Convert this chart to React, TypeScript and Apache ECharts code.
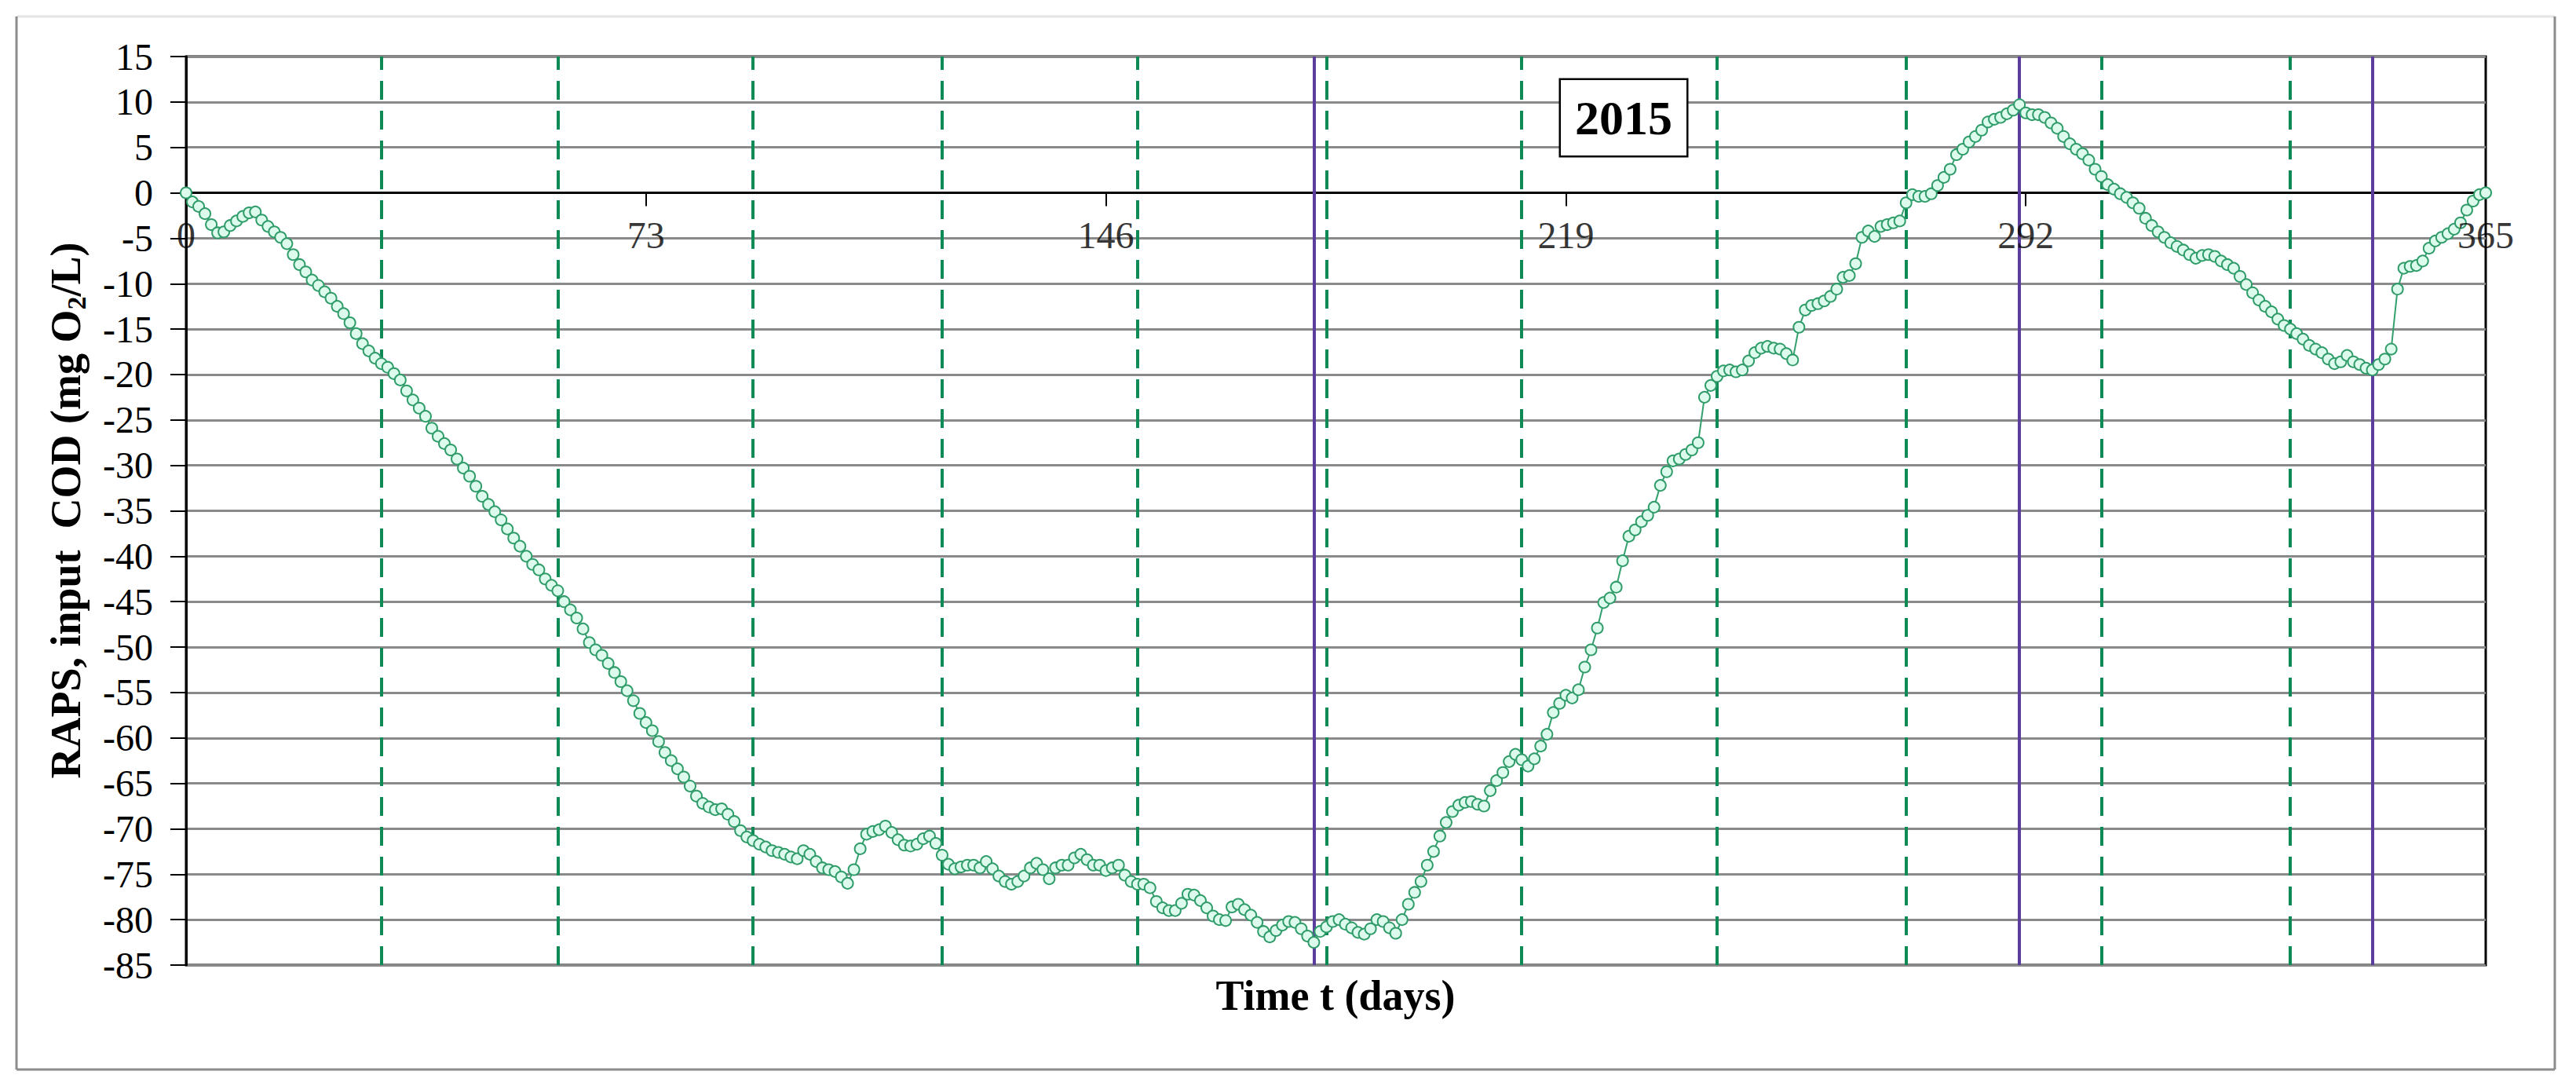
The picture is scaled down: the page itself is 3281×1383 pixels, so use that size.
import React, { useEffect, useRef } from "react";
import * as echarts from "echarts";

// Tick values on the time axis (days)
const xTicks = [0, 73, 146, 219, 292, 365];
// Month boundaries (green dashed lines)
const monthEnds = [31, 59, 90, 120, 151, 181, 212, 243, 273, 304, 334];
// Turning points (purple solid lines)
const turningPoints = [179, 291, 347];
const yearLabel = "2015";

// RAPS values, one per day (day 0 .. 365), grouped by month
const m01 = [0, -1, -1.5, -2.3, -3.5, -4.4, -4.3, -3.6, -3.1, -2.6, -2.2, -2.1, -3, -3.7, -4.3, -4.9, -5.6, -6.8, -7.9, -8.7, -9.6, -10.2, -10.9, -11.6, -12.5, -13.3, -14.3, -15.5, -16.6, -17.4, -18.2, -18.8];
const m02 = [-19.2, -19.9, -20.6, -21.8, -22.8, -23.7, -24.6, -25.9, -26.8, -27.6, -28.3, -29.3, -30.3, -31.2, -32.3, -33.4, -34.3, -35.1, -36, -37, -38, -38.9, -40, -40.9, -41.5, -42.5, -43.2, -43.8];
const m03 = [-45, -45.9, -46.8, -48, -49.5, -50.3, -50.9, -51.8, -52.8, -53.8, -54.8, -55.9, -57.3, -58.3, -59.2, -60.4, -61.6, -62.5, -63.4, -64.3, -65.3, -66.4, -67.2, -67.6, -67.9, -67.8, -68.4, -69.2, -70.2, -70.9, -71.3];
const m04 = [-71.7, -72, -72.4, -72.6, -72.8, -73.1, -73.3, -72.4, -72.8, -73.6, -74.3, -74.5, -74.7, -75.3, -76, -74.5, -72.2, -70.6, -70.3, -70.1, -69.7, -70.4, -71.2, -71.8, -71.9, -71.7, -71.1, -70.8, -71.6, -72.9];
const m05 = [-73.9, -74.4, -74.2, -74, -74, -74.3, -73.6, -74.4, -75.2, -75.8, -76.1, -75.8, -75.2, -74.3, -73.8, -74.5, -75.5, -74.3, -74, -74, -73.2, -72.8, -73.4, -74, -74, -74.6, -74.3, -74, -75.1, -75.8, -76.1];
const m06 = [-76.1, -76.5, -78, -78.7, -79, -79, -78.2, -77.2, -77.3, -77.9, -78.7, -79.6, -80, -80.1, -78.6, -78.3, -78.9, -79.5, -80.3, -81.3, -81.9, -81.2, -80.6, -80.2, -80.3, -81, -81.8, -82.5, -81.3, -80.8];
const m07 = [-80.2, -80, -80.5, -80.9, -81.4, -81.6, -81, -80, -80.2, -80.9, -81.5, -80, -78.3, -77, -75.8, -74, -72.5, -70.8, -69.3, -68.1, -67.4, -67.1, -67, -67.3, -67.5, -65.8, -64.7, -63.8, -62.6, -61.8, -62.4];
const m08 = [-63.1, -62.3, -60.9, -59.6, -57.2, -56.2, -55.3, -55.6, -54.7, -52.2, -50.3, -47.9, -45.1, -44.6, -43.4, -40.5, -37.8, -37.1, -36.2, -35.5, -34.6, -32.2, -30.7, -29.5, -29.3, -28.8, -28.3, -27.5, -22.5, -21.2, -20.2];
const m09 = [-19.6, -19.5, -19.7, -19.5, -18.5, -17.6, -17.1, -16.9, -17.1, -17.2, -17.7, -18.4, -14.8, -12.9, -12.4, -12.2, -11.9, -11.4, -10.6, -9.3, -9.1, -7.8, -4.9, -4.2, -4.8, -3.7, -3.5, -3.3, -3.1, -1.1];
const m10 = [-0.2, -0.4, -0.4, -0.1, 0.8, 1.7, 2.6, 4.2, 4.8, 5.6, 6.2, 6.9, 7.8, 8.1, 8.3, 8.7, 9.1, 9.7, 8.8, 8.6, 8.6, 8.3, 7.7, 7.1, 6.2, 5.4, 4.8, 4.3, 3.6, 2.6, 1.8];
const m11 = [0.9, 0.4, -0.1, -0.5, -1.1, -1.7, -2.8, -3.6, -4.3, -4.9, -5.5, -5.9, -6.3, -6.8, -7.2, -6.9, -6.8, -7, -7.5, -7.9, -8.3, -9.2, -10.1, -11, -11.8, -12.5, -13.1, -13.9, -14.6, -15];
const m12 = [-15.5, -16.1, -16.8, -17.2, -17.6, -18.3, -18.8, -18.6, -17.9, -18.6, -18.9, -19.3, -19.5, -18.9, -18.3, -17.2, -10.6, -8.3, -8.1, -8, -7.5, -6.1, -5.3, -4.9, -4.5, -4, -3.3, -1.9, -0.9, -0.2, 0];

const SERIF = "'Liberation Serif', 'Times New Roman', serif";

export default function App() {
  const ref = useRef<HTMLDivElement>(null);

  useEffect(() => {
    if (!ref.current) return;
    const chart = echarts.init(ref.current, null, { renderer: "svg" });
    const values = [...m01, ...m02, ...m03, ...m04, ...m05, ...m06, ...m07, ...m08, ...m09, ...m10, ...m11, ...m12];
    const data = values.map((v, i) => [i, v]);

    const markData: any[] = [
      ...monthEnds.map((d) => ({
        xAxis: d,
        lineStyle: { type: [24, 14], color: "#0d8a56", width: 4 },
      })),
      ...turningPoints.map((d) => ({
        xAxis: d,
        lineStyle: { type: "solid", color: "#5a3d9c", width: 4 },
      })),
    ];

    const option: any = {
      animation: false,
      backgroundColor: "#ffffff",
      grid: {
        left: 237,
        right: 115,
        top: 72,
        bottom: 154,
        containLabel: false,
        outerBoundsMode: "none",
        show: true,
        borderColor: "#000",
        borderWidth: 3,
        backgroundColor: "transparent",
      },
      xAxis: {
        type: "value",
        min: 0,
        max: 365,
        interval: 73,
        axisLine: { show: true, onZero: true, lineStyle: { color: "#000", width: 3 } },
        axisTick: { show: true, inside: false, length: 17, lineStyle: { color: "#000", width: 2 } },
        axisLabel: { show: false },
        splitLine: { show: false },
      },
      yAxis: {
        type: "value",
        min: -85,
        max: 15,
        interval: 5,
        axisLine: { show: true, onZero: false, lineStyle: { color: "#000", width: 3 } },
        axisTick: { show: true, length: 20, lineStyle: { color: "#000", width: 2 } },
        axisLabel: { fontFamily: SERIF, fontSize: 48, color: "#000", margin: 42 },
        splitLine: { show: true, lineStyle: { color: "#8a8a8a", width: 3 } },
      },
      series: [
        {
          type: "line",
          data,
          symbol: "circle",
          symbolSize: 14,
          showAllSymbol: true,
          lineStyle: { color: "#33a06e", width: 2 },
          itemStyle: { color: "#dcfbec", borderColor: "#2f9c6a", borderWidth: 2 },
          z: 3,
          markLine: {
            silent: true,
            symbol: ["none", "none"],
            label: { show: false },
            emphasis: { disabled: true },
            data: markData,
            z: 2,
          },
        },
        {
          // tick labels of the time axis, which sit under the zero line
          type: "scatter",
          data: xTicks.map((d) => [d, 0]),
          symbolSize: 0,
          silent: true,
          z: 4,
          label: {
            show: true,
            position: "bottom",
            distance: 30,
            fontFamily: SERIF,
            fontSize: 48,
            color: "#000",
            formatter: (p: any) => String(p.value[0]),
          },
        },
      ],
      graphic: [
        // outer frame
        { type: "line", shape: { x1: 21, y1: 21, x2: 3254, y2: 21 }, style: { stroke: "#e4e4e4", lineWidth: 3 } },
        { type: "line", shape: { x1: 21, y1: 21, x2: 21, y2: 1362 }, style: { stroke: "#8c8c8c", lineWidth: 3 } },
        { type: "line", shape: { x1: 3254, y1: 21, x2: 3254, y2: 1362 }, style: { stroke: "#8c8c8c", lineWidth: 3 } },
        { type: "line", shape: { x1: 21, y1: 1362, x2: 3254, y2: 1362 }, style: { stroke: "#8c8c8c", lineWidth: 3 } },
        // x axis title
        {
          type: "text",
          x: 1701,
          y: 1268,
          style: {
            text: "Time t (days)",
            fontFamily: SERIF,
            fontWeight: "bold",
            fontSize: 54,
            fill: "#000",
            align: "center",
            verticalAlign: "middle",
          },
        },
        // y axis title
        {
          type: "text",
          x: 84,
          y: 650,
          rotation: Math.PI / 2,
          style: {
            text: "{n|RAPS, input  COD (mg O}{s|2}{n|/L)}",
            align: "center",
            verticalAlign: "middle",
            rich: {
              n: { fontFamily: SERIF, fontWeight: "bold", fontSize: 54, fill: "#000", lineHeight: 60, verticalAlign: "middle" },
              s: { fontFamily: SERIF, fontWeight: "bold", fontSize: 34, fill: "#000", lineHeight: 60, verticalAlign: "bottom" },
            },
          },
        },
        // year box
        {
          type: "text",
          x: 2068,
          y: 150,
          z: 10,
          style: {
            text: yearLabel,
            fontFamily: SERIF,
            fontWeight: "bold",
            fontSize: 62,
            fill: "#000",
            align: "center",
            verticalAlign: "middle",
            backgroundColor: "#fff",
            borderColor: "#000",
            borderWidth: 2.5,
            padding: [16, 18, 12, 18],
            lineHeight: 68,
          },
        },
      ],
    };

    chart.setOption(option);
    return () => chart.dispose();
  }, []);

  return (
    <div
      ref={ref}
      style={{ position: "absolute", left: 0, top: 0, width: 3281, height: 1383, background: "#fff" }}
    />
  );
}
